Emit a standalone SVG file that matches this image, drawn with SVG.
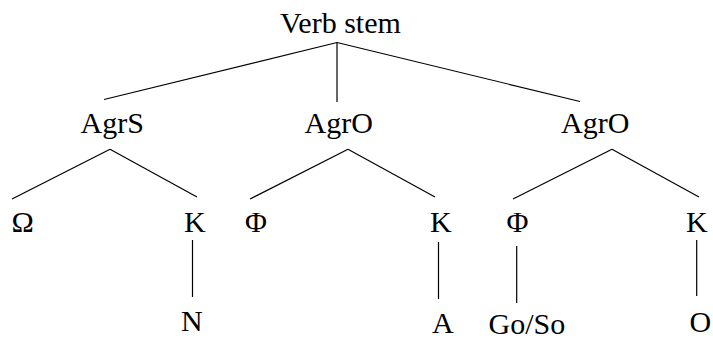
<svg xmlns="http://www.w3.org/2000/svg" width="713" height="341" viewBox="0 0 713 341">
<style>
.t text{font-family:'Liberation Serif',serif;font-size:30px;fill:#000}
.e line{stroke:#000;stroke-width:1.2;fill:none}
</style>
<rect width="713" height="341" fill="#fff"/>
<g class="e" id="connectors">
<line x1="337" y1="42.5" x2="104" y2="99.5"/>
<line x1="337" y1="42.5" x2="337" y2="102"/>
<line x1="337" y1="42.5" x2="580" y2="101.5"/>
<line x1="110" y1="149.3" x2="12" y2="199"/>
<line x1="110" y1="149.3" x2="197" y2="197"/>
<line x1="348" y1="149.3" x2="250" y2="199"/>
<line x1="348" y1="149.3" x2="435" y2="197"/>
<line x1="612" y1="149.3" x2="513" y2="199"/>
<line x1="612" y1="149.3" x2="699" y2="197"/>
<line x1="192.5" y1="240" x2="192.5" y2="297"/>
<line x1="438.5" y1="242" x2="438.5" y2="299"/>
<line x1="516.7" y1="246" x2="516.7" y2="303"/>
<line x1="696.7" y1="240" x2="696.7" y2="296"/>
</g>
<g class="t" font-family="Liberation Serif, serif">
<g id="verb-stem"><text x="280" y="32.5">Verb stem</text></g>
<g id="agrs"><text x="80.5" y="132.5">AgrS</text></g>
<g id="agro-1"><text x="304.5" y="132.5">AgrO</text></g>
<g id="agro-2"><text x="561" y="132.5">AgrO</text></g>
<g id="omega"><text x="11.5" y="231.5">Ω</text></g>
<g id="k-1"><text x="184" y="232">K</text></g>
<g id="phi-1"><text x="245" y="231.5">Φ</text></g>
<g id="k-2"><text x="430" y="232">K</text></g>
<g id="phi-2"><text x="506.5" y="231.5">Φ</text></g>
<g id="k-3"><text x="686" y="232">K</text></g>
<g id="n"><text x="181" y="331">N</text></g>
<g id="a"><text x="432" y="333">A</text></g>
<g id="go-so"><text x="488.5" y="334">Go/So</text></g>
<g id="o"><text x="689.5" y="331.5">O</text></g>
</g>
</svg>
